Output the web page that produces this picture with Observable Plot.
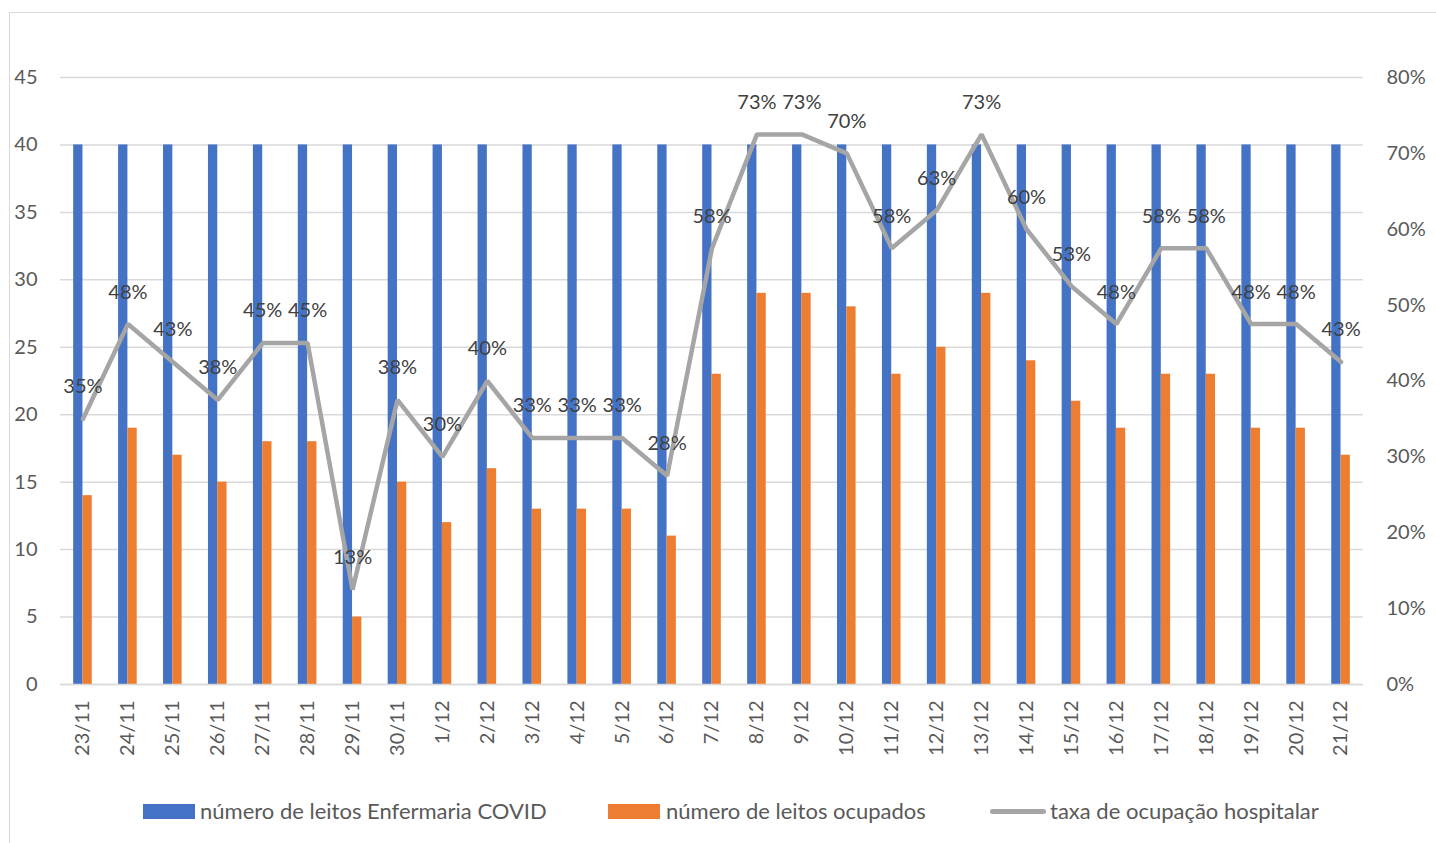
<!DOCTYPE html>
<html>
<head>
<meta charset="utf-8">
<script src="https://cdn.jsdelivr.net/npm/d3@7"></script>
<script src="https://cdn.jsdelivr.net/npm/@observablehq/plot@0.6"></script>
<style>
  html, body { margin: 0; padding: 0; background: #fff; }
  #wrap { position: relative; width: 1436px; height: 843px; overflow: hidden; font-family: Lato, "Open Sans", sans-serif; }
  #frame { position: absolute; left: 9px; top: 12px; width: 1440px; height: 840px; border: 1.5px solid #d9d9d9; box-sizing: border-box; }
  #chart { position: absolute; left: 0; top: 0; }
  .leg { position: absolute; top: 798px; height: 26px; line-height: 26px; font-size: 22px; color: #595959; white-space: nowrap; }
  .sw { position: absolute; }
</style>
</head>
<body>
<div id="wrap">
  <div id="frame"></div>
  <div id="chart"></div>
  <div class="sw" style="left:143px;top:804px;width:52px;height:15px;background:#4472c4"></div>
  <div class="leg" style="left:200px">número de leitos Enfermaria COVID</div>
  <div class="sw" style="left:608px;top:804px;width:52px;height:15px;background:#ed7d31"></div>
  <div class="leg" style="left:666px">número de leitos ocupados</div>
  <div class="sw" style="left:990px;top:809px;width:56px;height:5px;background:#a5a5a5;border-radius:3px"></div>
  <div class="leg" style="left:1050px">taxa de ocupação hospitalar</div>
</div>
<script>
const dates = ["23/11","24/11","25/11","26/11","27/11","28/11","29/11","30/11","1/12","2/12","3/12","4/12","5/12","6/12","7/12","8/12","9/12","10/12","11/12","12/12","13/12","14/12","15/12","16/12","17/12","18/12","19/12","20/12","21/12"];
const totalBeds = [40,40,40,40,40,40,40,40,40,40,40,40,40,40,40,40,40,40,40,40,40,40,40,40,40,40,40,40,40];
const occupiedBeds = [14,19,17,15,18,18,5,15,12,16,13,13,13,11,23,29,29,28,23,25,29,24,21,19,23,23,19,19,17];
const occupancyRate = [35,47.5,42.5,37.5,45,45,12.5,37.5,30,40,32.5,32.5,32.5,27.5,57.5,72.5,72.5,70,57.5,62.5,72.5,60,52.5,47.5,57.5,57.5,47.5,47.5,42.5];
const rateLabels = ["35%","48%","43%","38%","45%","45%","13%","38%","30%","40%","33%","33%","33%","28%","58%","73%","73%","70%","58%","63%","73%","60%","53%","48%","58%","58%","48%","48%","43%"];
const leftTicks = [0,5,10,15,20,25,30,35,40,45];
const rightTicks = [0,10,20,30,40,50,60,70,80];

const leftMax = 45, rightMax = 80;
const toLeft = p => p * leftMax / rightMax;

const rows = dates.map((d, i) => ({
  date: d,
  total: totalBeds[i],
  occupied: occupiedBeds[i],
  rateY: toLeft(occupancyRate[i]),
  label: rateLabels[i]
}));

const W = 1436, ML = 60, MR = 73;
const step = (W - ML - MR) / dates.length;
const barW = 9.3;
const half = step / 2;

const chart = Plot.plot({
  width: W,
  height: 780,
  marginTop: 77,
  marginBottom: 96,
  marginLeft: ML,
  marginRight: MR,
  style: { fontFamily: "Lato, 'Open Sans', sans-serif", fontSize: "20px", color: "#595959", background: "transparent", overflow: "visible" },
  x: { domain: dates, padding: 0, round: false },
  y: { domain: [0, leftMax] },
  marks: [
    Plot.gridY(leftTicks, { stroke: "#d9d9d9", strokeOpacity: 1, strokeWidth: 1.5 }),
    Plot.barY(rows, { x: "date", y: "total", fill: "#4472c4", insetLeft: half - barW, insetRight: half }),
    Plot.barY(rows, { x: "date", y: "occupied", fill: "#ed7d31", insetLeft: half, insetRight: half - barW }),
    Plot.ruleY([0], { stroke: "#d9d9d9", strokeWidth: 1.5 }),
    Plot.line(rows, { x: "date", y: "rateY", stroke: "#a5a5a5", strokeWidth: 4.5, strokeLinejoin: "miter", strokeLinecap: "round" }),
    Plot.text(rows, { x: "date", y: "rateY", text: "label", dy: -32, fill: "#404040", fontSize: 20 }),
    Plot.axisY(leftTicks, { anchor: "left", tickSize: 0, tickPadding: 23, fontSize: 20, label: null }),
    Plot.axisY(rightTicks.map(toLeft), { anchor: "right", tickSize: 0, tickPadding: 23, fontSize: 20, label: null, tickFormat: d => `${Math.round(d * rightMax / leftMax)}%` }),
    Plot.axisX({ tickRotate: -90, tickSize: 0, tickPadding: 16, fontSize: 20, label: null })
  ]
});
document.getElementById("chart").appendChild(chart);
</script>
</body>
</html>
